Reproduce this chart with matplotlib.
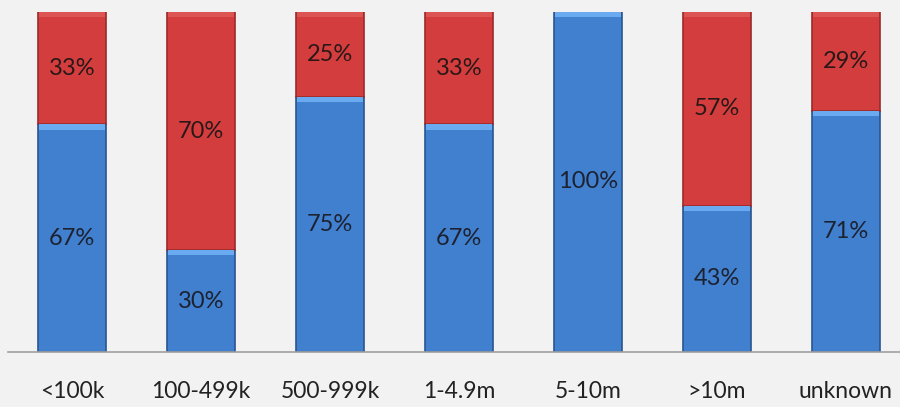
import matplotlib.pyplot as plt
import numpy as np

# datos del grafico
categorias = ["<100k", "100-499k", "500-999k", "1-4.9m", "5-10m", ">10m", "unknown"]
azul = [67, 30, 75, 67, 100, 43, 71]
rojo = [33, 70, 25, 33, 0, 57, 29]

plt.rcParams['font.family'] = ['Lato', 'DejaVu Sans']

fig = plt.figure(figsize=(9, 4.07), dpi=100)
fig.patch.set_facecolor('#f2f2f2')
ax = fig.add_axes([8 / 900, 55 / 407, 1 - 8 / 900, 340 / 407])
ax.set_facecolor('#f2f2f2')

x = np.arange(len(categorias))
ancho = 0.53
a = np.array(azul) / 100
r = np.array(rojo) / 100

# barras principales
ax.bar(x, a, ancho, color='#417fcf', edgecolor='#2a5590', linewidth=1.2, zorder=2)
ax.bar(x, r, ancho, bottom=a, color='#d43d3d', edgecolor='#9c2a2a', linewidth=1.2, zorder=2)

# brillo superior (bisel)
bisel = 0.016
ax.bar(x, np.where(a > 0, bisel, 0), ancho - 0.015, bottom=a - bisel,
       color='#6aaaf0', linewidth=0, zorder=3)
ax.bar(x, np.where(r > 0, bisel, 0), ancho - 0.015, bottom=a + r - bisel,
       color='#dd5552', linewidth=0, zorder=3)

# etiquetas de porcentaje
for i in range(len(categorias)):
    if azul[i] > 0:
        ax.text(x[i], a[i] / 2, f"{azul[i]}%", ha='center', va='center',
                fontsize=17, color='#1c2230', zorder=4)
    if rojo[i] > 0:
        ax.text(x[i], a[i] + r[i] / 2, f"{rojo[i]}%", ha='center', va='center',
                fontsize=17, color='#2a1818', zorder=4)

ax.set_xlim(-0.496, 6.42)
ax.set_ylim(0, 1)
ax.set_yticks([])
ax.set_xticks(x)
ax.set_xticklabels(categorias, fontsize=16.5, color='#222222')
ax.tick_params(axis='x', length=0, pad=21)
for lado in ['top', 'right', 'left']:
    ax.spines[lado].set_visible(False)
ax.spines['bottom'].set_color('#a0a0a0')
ax.spines['bottom'].set_linewidth(1.2)

fig.savefig('out.png', dpi=100, facecolor=fig.get_facecolor())
